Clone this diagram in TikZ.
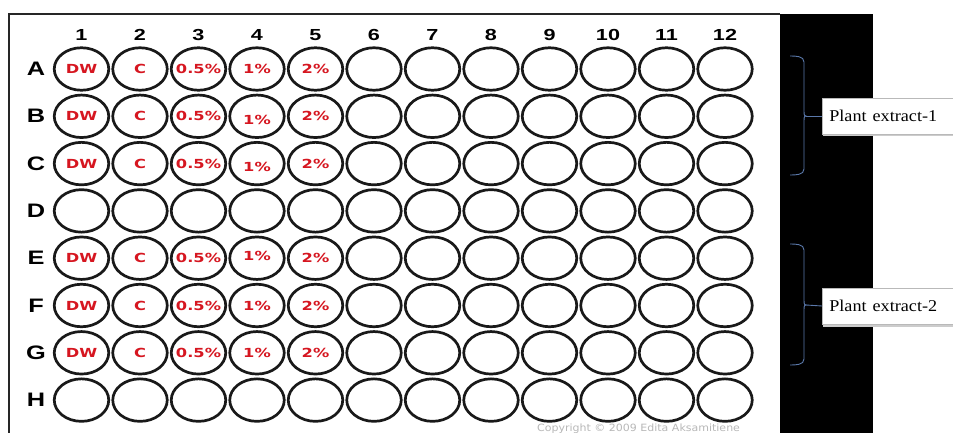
\documentclass[tikz,border=0pt]{standalone}
\usepackage{graphicx}
\usepackage{fontspec}
\setmainfont{Liberation Serif}
\newfontfamily\arialfont{Liberation Sans}
\newfontfamily\verdfont{DejaVu Sans}
\usetikzlibrary{shapes.geometric}
\definecolor{wellred}{RGB}{214,22,32}
\definecolor{bracecol}{RGB}{90,120,170}
\definecolor{welldraw}{RGB}{25,25,25}
\tikzset{
  well/.style={ellipse, draw=welldraw, line width=2.7pt, minimum width=54.5pt, minimum height=42.5pt, inner sep=0pt},
  welltext/.style={font=\verdfont\bfseries\fontsize{12.5}{14}\selectfont, text=wellred, inner sep=0pt, text height=9.1pt, text depth=0pt},
  rowlab/.style={font=\arialfont\bfseries\fontsize{19.5}{22}\selectfont, inner sep=0pt, text height=14pt, text depth=0pt},
  collab/.style={font=\arialfont\bfseries\fontsize{16}{18}\selectfont, inner sep=0pt, text height=11.5pt, text depth=0pt},
  bracepath/.style={draw=bracecol, line width=0.9pt},
  extbox/.style={draw=gray!55, fill=white, line width=0.6pt, minimum width=140pt, minimum height=36pt, anchor=west, text width=126pt, align=left, inner xsep=7pt, font=\fontsize{16.5}{18}\selectfont},
  copytext/.style={font=\verdfont\fontsize{10}{12}\selectfont, text=black!28, anchor=base west, inner sep=0pt}
}
\begin{document}
\begin{tikzpicture}[x=1pt,y=-1pt]
\useasboundingbox (0,0) rectangle (953,433);
\clip (0,0) rectangle (953,433);
\fill[white] (0,0) rectangle (953,433);
% black strip
\fill[black] (780,14) rectangle (873,433);
% plate frame
\draw[line width=2pt, draw=black!85] (9,433) -- (9,14) -- (780,14);
% column numbers
\foreach \c in {1,...,12}{
  \node[collab] (col\c) at ({81.5+58.5*(\c-1)},35) {\scalebox{1.35}[1]{\c}};
}
% rows
\foreach \r [count=\i from 0] in {A,B,C,D,E,F,G,H}{
  \node[rowlab] (row\r) at (36,{68.5+47.3*\i}) {\scalebox{1.3}[1]{\r}};
  \foreach \c in {1,...,12}{
    \node[well] (w\r\c) at ({81.5+58.5*(\c-1)},{69+47.3*\i}) {};
  }
}
% labels
\foreach \r in {A,B,C,E,F,G}{
  \node[welltext] (t\r1) at (w\r1) {\scalebox{1.3}[1]{DW}};
  \node[welltext] (t\r2) at (w\r2) {\scalebox{1.3}[1]{C}};
  \node[welltext] (t\r3) at (w\r3) {\scalebox{1.3}[1]{0.5\%}};
  \node[welltext] (t\r5) at (w\r5) {\scalebox{1.3}[1]{2\%}};
}
\node[welltext] (tA4) at (wA4) {\scalebox{1.3}[1]{1\%}};
\node[welltext] (tB4) at ([yshift=-4pt]wB4.center) {\scalebox{1.3}[1]{1\%}};
\node[welltext] (tC4) at ([yshift=-3pt]wC4.center) {\scalebox{1.3}[1]{1\%}};
\node[welltext] (tE4) at ([yshift=2pt]wE4.center) {\scalebox{1.3}[1]{1\%}};
\node[welltext] (tF4) at (wF4) {\scalebox{1.3}[1]{1\%}};
\node[welltext] (tG4) at (wG4) {\scalebox{1.3}[1]{1\%}};
% label boxes
\fill[gray!40] (823,100) rectangle (960,136);
\node[extbox] (ext1) at (822,116) {\scalebox{1.1}[1]{Plant extract-1}};
\fill[gray!40] (823,290) rectangle (960,327);
\node[extbox] (ext2) at (822,306) {\scalebox{1.1}[1]{Plant extract-2}};
% braces
\coordinate (b1top) at (790,56);
\coordinate (b1mid) at (806,116);
\coordinate (b1bot) at (790,175);
\draw[bracepath] (b1top) to[out=0,in=90] (804,62) -- (804,110) to[out=-90,in=180] (b1mid)
  to[out=180,in=90] (804,122) -- (804,169) to[out=-90,in=0] (b1bot);
\draw[bracepath] (b1mid) -- (ext1.west);
\coordinate (b2top) at (790,244);
\coordinate (b2mid) at (806,305);
\coordinate (b2bot) at (790,365);
\draw[bracepath] (b2top) to[out=0,in=90] (804,250) -- (804,299) to[out=-90,in=180] (b2mid)
  to[out=180,in=90] (804,311) -- (804,359) to[out=-90,in=0] (b2bot);
\draw[bracepath] (b2mid) -- (ext2.west);
% copyright
\node[copytext] (copy) at (537,431) {\scalebox{1.1}[1]{Copyright \textcopyright{} 2009 Edita Aksamitiene}};
\end{tikzpicture}
\end{document}
